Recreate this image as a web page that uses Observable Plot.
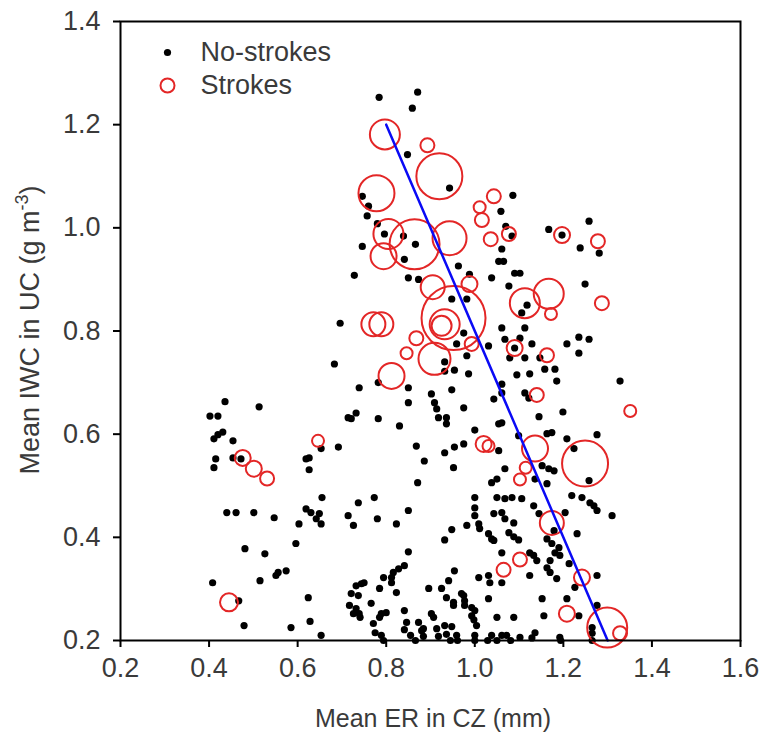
<!DOCTYPE html>
<html><head><meta charset="utf-8">
<script src="https://cdn.jsdelivr.net/npm/d3@7"></script>
<script src="https://cdn.jsdelivr.net/npm/@observablehq/plot@0.6"></script>
<style>
html,body{margin:0;padding:0;background:#fff;}
#chart{width:762px;height:736px;}
</style></head><body><div id="chart"></div>
<script>
// ---- Data ----
const noStrokeER = [
0.436,0.513,0.402,0.42,0.431,0.42,0.411,0.454,0.472,0.454,0.415,0.411,0.626,0.619,0.626,0.653,0.692,0.683,
0.44,0.461,0.501,0.547,0.619,0.63,0.649,0.653,0.603,0.642,0.655,0.481,0.526,0.556,0.574,0.551,0.596,0.408,
0.515,0.624,0.467,0.479,0.585,0.628,0.653,
0.696,0.739,0.782,0.85,0.85,0.732,0.714,0.721,0.782,0.83,0.868,0.932,0.728,0.746,0.746,0.76,0.757,0.78,
0.796,0.839,0.866,0.841,0.85,0.873,0.784,0.871,0.859,0.848,0.943,0.963,0.988,1.038,0.948,0.982,0.975,0.959,
0.982,0.932,0.932,0.954,0.986,1.031,1.061,1.061,1.043,
1.086,1.059,1.07,1.084,1.061,1.054,1.065,1.09,1.102,1.077,1.258,1.167,1.197,1.238,1.281,1.249,1.118,1.106,
1.113,1.061,1.068,1.102,1.129,1.09,1.079,1.113,1.147,1.208,1.235,1.258,1.235,1.158,1.181,1.095,1.124,1.185,
1.328,1.113,1.122,
0.948,0.902,0.909,0.914,0.975,0.918,0.936,0.936,1.145,1.054,1.061,1.0,1.099,0.954,0.975,1.054,0.886,0.952,
1.068,1.152,1.038,1.05,1.136,1.163,1.0,1.0,1.05,1.068,1.084,1.106,1.133,
1.0,1.043,1.061,1.068,1.088,1.145,0.948,0.932,0.982,1.009,1.011,1.031,1.038,1.043,1.077,1.088,1.099,1.061,
1.124,1.133,1.14,0.954,1.009,1.031,1.034,1.061,1.124,0.941,0.925,0.896,0.936,0.952,0.952,0.975,0.977,0.977,
1.031,1.0,0.993,0.902,0.907,1.05,1.088,1.156,1.152,0.932,0.948,0.914,1.004,0.884,0.959,1.0,1.038,1.061,
1.072,1.102,1.136,
0.871,0.737,0.773,0.714,0.726,0.78,0.823,0.85,0.85,0.841,0.828,0.816,0.812,0.794,0.812,0.823,0.732,0.744,
0.75,0.721,0.737,0.717,0.732,0.739,0.766,0.785,0.789,0.8,0.771,0.841,0.846,0.873,0.88,0.97,0.993,0.789,
1.199,1.174,1.163,1.208,1.276,1.224,1.258,1.167,1.179,1.219,1.242,1.26,1.269,1.276,1.31,1.204,1.179,1.231,
1.163,1.174,1.19,1.181,1.192,1.17,1.163,1.17,1.185,1.213,1.276,1.226,1.208,1.235,1.276,1.265,1.265,1.192,
0.726,0.741,0.785,0.775,0.794,0.841,0.866,0.884,0.855,0.918,0.936,0.945,0.961,0.998,1.0,1.029,1.05,1.081,
1.129,1.194,1.265
];
const noStrokeIWC = [
0.663,0.653,0.635,0.635,0.604,0.599,0.591,0.587,0.552,0.554,0.552,0.535,0.554,0.552,0.531,0.572,0.575,0.736,
0.448,0.448,0.448,0.438,0.455,0.448,0.446,0.426,0.426,0.436,0.477,0.378,0.368,0.332,0.335,0.326,0.388,0.312,
0.316,0.283,0.277,0.229,0.225,0.237,0.21,
0.815,0.69,0.7,0.69,0.661,0.641,0.632,0.63,0.63,0.616,0.577,0.564,0.908,0.964,1.061,1.042,1.023,1.008,
0.988,0.984,0.968,0.939,0.903,0.9,1.253,1.263,1.232,1.142,1.077,0.926,0.91,0.903,0.862,0.862,0.796,0.775,
0.752,0.74,0.722,0.724,0.717,0.771,0.697,0.68,0.668,
1.063,1.032,1.003,0.984,0.959,0.935,0.935,0.912,0.912,0.887,1.013,0.997,0.986,0.961,0.951,0.891,0.85,0.835,
0.806,0.806,0.784,0.786,0.775,0.767,0.748,0.748,0.748,0.775,0.788,0.784,0.757,0.726,0.726,0.715,0.717,0.703,
0.703,0.68,0.67,
0.686,0.678,0.661,0.649,0.651,0.632,0.632,0.62,0.634,0.62,0.622,0.608,0.597,0.575,0.581,0.568,0.548,0.535,
0.533,0.539,0.506,0.513,0.513,0.504,0.477,0.457,0.477,0.475,0.477,0.475,0.461,
0.442,0.446,0.448,0.436,0.428,0.446,0.415,0.395,0.423,0.426,0.417,0.407,0.397,0.394,0.409,0.401,0.395,0.37,
0.37,0.365,0.355,0.335,0.322,0.326,0.312,0.312,0.326,0.316,0.301,0.301,0.283,0.274,0.268,0.287,0.277,0.268,
0.281,0.258,0.248,0.252,0.245,0.245,0.245,0.248,0.281,0.229,0.227,0.223,0.229,0.223,0.21,0.21,0.21,0.21,
0.21,0.206,0.215,
0.506,0.467,0.477,0.442,0.423,0.436,0.426,0.452,0.372,0.345,0.339,0.332,0.322,0.322,0.312,0.293,0.306,0.31,
0.312,0.291,0.287,0.268,0.262,0.252,0.272,0.301,0.252,0.254,0.233,0.258,0.235,0.235,0.219,0.291,0.264,0.21,
0.643,0.603,0.601,0.591,0.599,0.572,0.51,0.533,0.529,0.481,0.477,0.467,0.461,0.452,0.442,0.448,0.413,0.407,
0.397,0.388,0.38,0.37,0.365,0.355,0.341,0.332,0.32,0.349,0.326,0.303,0.281,0.248,0.268,0.225,0.214,0.206,
0.252,0.245,0.245,0.215,0.2,0.221,0.2,0.208,0.21,0.208,0.212,0.2,0.2,0.24,0.2,0.2,0.2,0.2,
0.205,0.2,0.2
];
const strokeER = [
0.797,0.893,0.92,0.778,1.011,1.043,1.016,1.036,1.077,0.943,0.805,0.794,0.864,1.197,1.278,1.113,1.167,1.172,
1.287,1.09,1.163,1.14,1.351,0.771,0.789,0.868,0.846,0.812,0.909,0.932,0.925,0.952,0.988,0.993,1.02,1.031,
1.136,1.249,1.115,1.102,1.174,1.102,1.065,1.242,1.208,1.299,1.328,0.476,0.501,0.531,0.646,0.445,0.905
];
const strokeIWC = [
1.181,1.16,1.1,1.067,1.04,1.061,1.015,0.978,0.988,0.98,0.988,0.945,0.968,0.986,0.974,0.854,0.872,0.833,
0.854,0.767,0.753,0.676,0.645,0.813,0.813,0.786,0.757,0.713,0.746,0.813,0.81,0.825,0.891,0.775,0.581,0.577,
0.572,0.543,0.535,0.512,0.428,0.357,0.337,0.322,0.252,0.225,0.214,0.554,0.533,0.514,0.587,0.274,0.885
];
// relative stroke count, drawn as circle size
const strokeSize = [
15,7,23,18,6,7,7,7,7,17,15,13,25,8,7,15,15,6,
7,8,7,7,6,12,12,7,6,13,16,15,10,32,8,7,8,6,
13,23,6,6,12,7,7,8,8,20,7,8,8,7,6,9,12
];
const fitER = [0.8, 1.3];
const fitIWC = [1.2, 0.2];
const xTicks = [0.2, 0.4, 0.6, 0.8, 1.0, 1.2, 1.4, 1.6];
const yTicks = [0.2, 0.4, 0.6, 0.8, 1.0, 1.2, 1.4];
const legendLabels = ["No-strokes", "Strokes"];
const xTitle = "Mean ER in CZ (mm)";
const yTitleMain = "Mean IWC in UC (g m";
const yTitleSup = "-3";

// ---- Build tables ----
const noStroke = noStrokeER.map((x, i) => ({er: x, iwc: noStrokeIWC[i]}));
const strokes = strokeER.map((x, i) => ({er: x, iwc: strokeIWC[i], n: strokeSize[i]}));
const fit = fitER.map((x, i) => ({er: x, iwc: fitIWC[i]}));

const FONT = "'Liberation Sans', Arial, Helvetica, sans-serif";
const TXT = "#3a3a3a";
const RED = "#e32626";
const BLUE = "#0a0af5";
const FS = 27;
const fmt = d3.format(".1f");

const chart = Plot.plot({
  width: 762, height: 736,
  marginLeft: 120, marginRight: 22, marginTop: 21, marginBottom: 96,
  style: {fontFamily: FONT, fontSize: FS + "px", background: "white", color: TXT},
  x: {domain: [0.2, 1.6]},
  y: {domain: [0.2, 1.4]},
  r: {type: "linear", domain: [0, 32], range: [0, 32]},
  marks: [
    Plot.axisX({ticks: xTicks, tickFormat: fmt, tickSize: 7, tickPadding: 10, stroke: "black", strokeWidth: 2, fill: TXT, fontSize: FS, label: null}),
    Plot.axisY({ticks: yTicks, tickFormat: fmt, tickSize: 7, tickPadding: 13, stroke: "black", strokeWidth: 2, fill: TXT, fontSize: FS, label: null}),
    Plot.dot(noStroke, {x: "er", y: "iwc", r: 3.6, fill: "black"}),
    Plot.dot(strokes, {x: "er", y: "iwc", r: "n", stroke: RED, strokeWidth: 2, fill: "none"}),
    Plot.line(fit, {x: "er", y: "iwc", stroke: BLUE, strokeWidth: 2.5}),
    Plot.frame({stroke: "black", strokeWidth: 2}),
    // legend
    Plot.dot([legendLabels[0]], {frameAnchor: "top-left", dx: 47, dy: 31, r: 3.6, fill: "black"}),
    Plot.dot([legendLabels[1]], {frameAnchor: "top-left", dx: 47, dy: 64, r: 7, stroke: RED, strokeWidth: 2, fill: "none"}),
    Plot.text([legendLabels[0]], {text: d => d, frameAnchor: "top-left", dx: 80, dy: 31, textAnchor: "start", lineAnchor: "middle", fontSize: FS, fill: TXT}),
    Plot.text([legendLabels[1]], {text: d => d, frameAnchor: "top-left", dx: 80, dy: 64, textAnchor: "start", lineAnchor: "middle", fontSize: FS, fill: TXT})
  ]
});
document.getElementById("chart").appendChild(chart);

// axis titles
const svg = d3.select(chart);
svg.append("text")
  .attr("x", 433).attr("y", 727)
  .attr("text-anchor", "middle")
  .attr("fill", TXT).attr("font-family", FONT).attr("font-size", 25)
  .text(xTitle);
const yt = svg.append("text")
  .attr("transform", "translate(39,330) rotate(-90)")
  .attr("text-anchor", "middle")
  .attr("fill", TXT).attr("font-family", FONT).attr("font-size", FS);
yt.append("tspan").text(yTitleMain);
yt.append("tspan").attr("font-size", 18).attr("dy", -11).text(yTitleSup);
yt.append("tspan").attr("dy", 11).text(")");
</script>
</body></html>
